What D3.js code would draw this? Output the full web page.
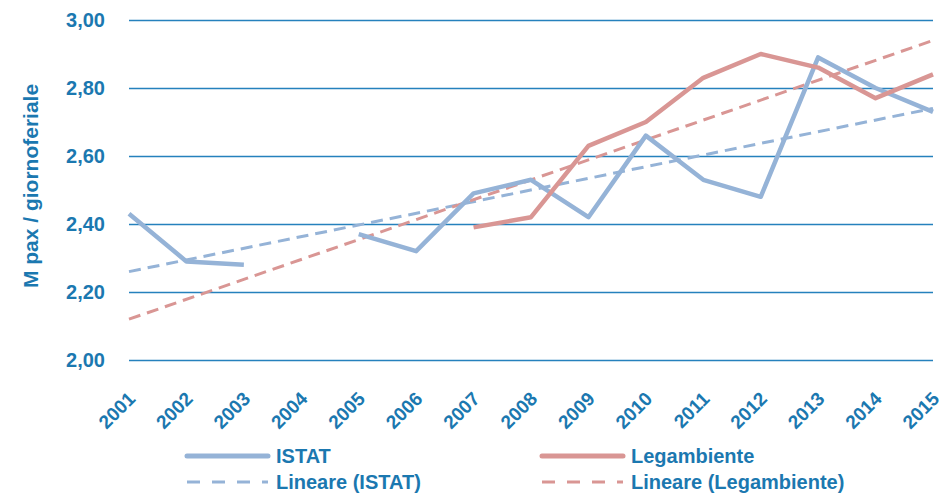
<!DOCTYPE html>
<html>
<head>
<meta charset="utf-8">
<script src="https://cdn.jsdelivr.net/npm/d3@7"></script>
<style>
  body { margin: 0; background: #fff; }
  text { font-family: "Liberation Sans", Arial, sans-serif; fill: #1b78b0; }
</style>
</head>
<body>
<script>
var width = 945,
    height = 494,
    margin = { top: 20, right: 12, bottom: 134, left: 129 };

// data
var years = ['2001', '2002', '2003', '2004', '2005', '2006', '2007', '2008',
             '2009', '2010', '2011', '2012', '2013', '2014', '2015'];
var istat = [2.43, 2.29, 2.28, null, 2.37, 2.32, 2.49, 2.53, 2.42, 2.66, 2.53, 2.48, 2.89, 2.80, 2.73];
var legambiente = [null, null, null, null, null, null, 2.39, 2.42, 2.63, 2.70, 2.83, 2.90, 2.86, 2.77, 2.84];
// linear trend lines, start and end values
var trendYears = ['2001', '2015'];
var trendIstat = [2.26, 2.74];
var trendLegambiente = [2.12, 2.94];
var yTicks = [2.0, 2.2, 2.4, 2.6, 2.8, 3.0];

var blue = '#95b3d7', red = '#d99694', grid = '#2581bd';

var svg = d3.select('body').append('svg')
    .attr('width', width)
    .attr('height', height);

var w = width - margin.left - margin.right,
    h = height - margin.top - margin.bottom;

var x = d3.scalePoint().domain(years).range([0, w]);
var y = d3.scaleLinear().domain([2, 3]).range([h, 0]);

var g = svg.append('g')
    .attr('transform', 'translate(' + margin.left + ',' + margin.top + ')');

// gridlines + y labels
var yAxis = g.append('g')
    .call(d3.axisLeft(y).tickValues(yTicks).tickSize(-w).tickPadding(24)
      .tickFormat(function(d) { return d3.format('.2f')(d).replace('.', ','); }));
yAxis.select('.domain').remove();
yAxis.selectAll('.tick line').attr('stroke', grid).attr('stroke-width', 1.6);
yAxis.selectAll('.tick text')
    .attr('font-size', 20).attr('font-weight', 'bold')
    .attr('fill', '#1b78b0').attr('font-family', '"Liberation Sans", Arial, sans-serif');

// x labels, rotated
var xAxis = g.append('g')
    .attr('transform', 'translate(0,' + h + ')')
    .call(d3.axisBottom(x).tickSize(0).tickPadding(0));
xAxis.select('.domain').remove();
xAxis.selectAll('.tick text')
    .attr('font-size', 19).attr('font-weight', 'bold')
    .attr('fill', '#1b78b0').attr('font-family', '"Liberation Sans", Arial, sans-serif')
    .attr('text-anchor', 'end')
    .attr('dy', null)
    .attr('y', null)
    .attr('transform', 'translate(7,40) rotate(-45)');

var line = d3.line()
    .defined(function(d) { return d.v != null; })
    .x(function(d) { return x(d.year); })
    .y(function(d) { return y(d.v); });

function pairs(keys, vals) {
  return keys.map(function(k, i) { return { year: k, v: vals[i] }; });
}

g.append('path').datum(pairs(trendYears, trendIstat))
    .attr('d', line).attr('fill', 'none')
    .attr('stroke', blue).attr('stroke-width', 3).attr('stroke-dasharray', '12,7');
g.append('path').datum(pairs(trendYears, trendLegambiente))
    .attr('d', line).attr('fill', 'none')
    .attr('stroke', red).attr('stroke-width', 3).attr('stroke-dasharray', '12,7');

g.append('path').datum(pairs(years, istat))
    .attr('d', line).attr('fill', 'none')
    .attr('stroke', blue).attr('stroke-width', 4.5).attr('stroke-linejoin', 'round');
g.append('path').datum(pairs(years, legambiente))
    .attr('d', line).attr('fill', 'none')
    .attr('stroke', red).attr('stroke-width', 4.5).attr('stroke-linejoin', 'round');

// y axis title
svg.append('text')
    .attr('transform', 'translate(38,186) rotate(-90)')
    .attr('text-anchor', 'middle')
    .attr('font-size', 21).attr('font-weight', 'bold')
    .text('M pax / giornoferiale');

// legend
var legend = [
  { name: 'ISTAT', color: blue, dash: null, x: 187, y: 456 },
  { name: 'Legambiente', color: red, dash: null, x: 542, y: 456 },
  { name: 'Lineare (ISTAT)', color: blue, dash: '13,12', x: 187, y: 482 },
  { name: 'Lineare (Legambiente)', color: red, dash: '13,12', x: 542, y: 482 }
];
var lg = svg.selectAll('.legend').data(legend).enter().append('g')
    .attr('class', 'legend')
    .attr('transform', function(d) { return 'translate(' + d.x + ',' + d.y + ')'; });
lg.append('line')
    .attr('x1', 0).attr('x2', 81)
    .attr('stroke', function(d) { return d.color; })
    .attr('stroke-width', function(d) { return d.dash ? 3 : 5; })
    .attr('stroke-linecap', function(d) { return d.dash ? 'butt' : 'round'; })
    .attr('stroke-dasharray', function(d) { return d.dash; });
lg.append('text')
    .attr('x', 89).attr('y', 7)
    .attr('font-size', 20).attr('font-weight', 'bold')
    .text(function(d) { return d.name; });
</script>
</body>
</html>
